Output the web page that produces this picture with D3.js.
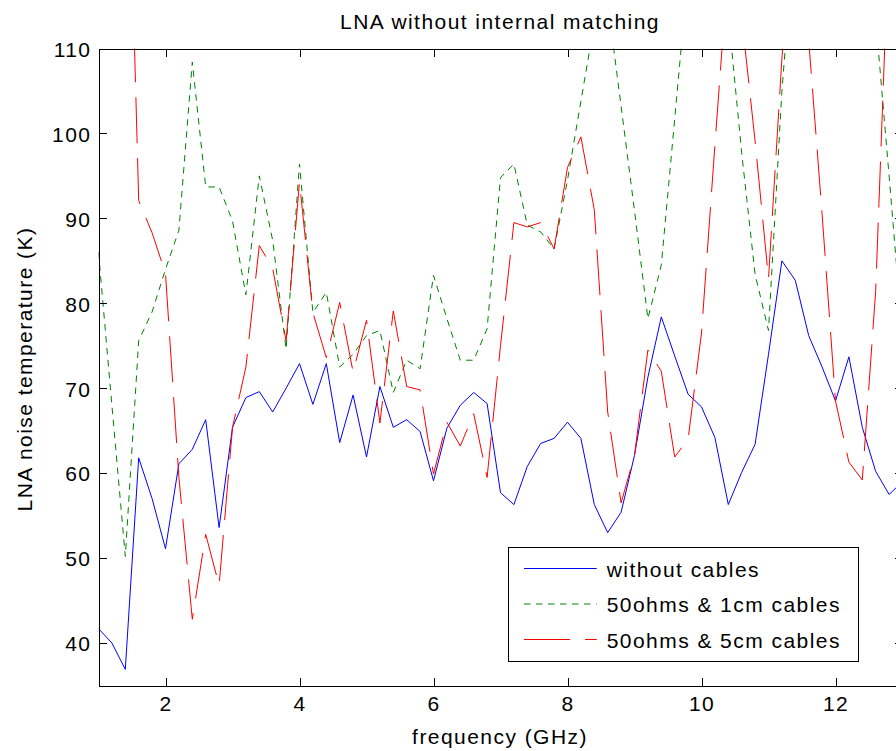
<!DOCTYPE html>
<html>
<head>
<meta charset="utf-8">
<script src="https://cdn.jsdelivr.net/npm/d3@7"></script>
<style>
	body { margin: 0; background: #fff; }
	text { font-family: "Liberation Sans", Arial, sans-serif; font-size: 21px; letter-spacing: 1.45px; fill: #000; }
</style>
</head>
<body>
<div id="chart"></div>
<script>
// frequency points (GHz), one every 0.2 GHz
var frequency = [1, 1.2, 1.4, 1.6, 1.8, 2, 2.2, 2.4, 2.6, 2.8,
	3, 3.2, 3.4, 3.6, 3.8, 4, 4.2, 4.4, 4.6, 4.8,
	5, 5.2, 5.4, 5.6, 5.8, 6, 6.2, 6.4, 6.6, 6.8,
	7, 7.2, 7.4, 7.6, 7.8, 8, 8.2, 8.4, 8.6, 8.8,
	9, 9.2, 9.4, 9.6, 9.8, 10, 10.2, 10.4, 10.6, 10.8,
	11, 11.2, 11.4, 11.6, 11.8, 12, 12.2, 12.4, 12.6, 12.8, 13];

var withoutCables = [41.7, 40.0, 36.9, 61.8, 57.0, 51.1, 61.1, 62.8, 66.3, 53.6,
	65.4, 68.9, 69.6, 67.2, 70.0, 72.9, 68.1, 72.9, 63.6, 69.2,
	61.9, 70.2, 65.4, 66.3, 64.9, 59.1, 65.3, 68.0, 69.5, 68.2,
	57.7, 56.3, 60.8, 63.5, 64.1, 66.0, 64.1, 56.3, 53.0, 55.4,
	62.1, 71.3, 78.4, 73.8, 69.3, 67.8, 64.2, 56.3, 60.1, 63.4,
	74.0, 85.0, 82.7, 76.2, 72.5, 68.5, 73.7, 65.4, 60.2, 57.5, 59.0];

var cables1cm = [86.0, 68.0, 50.2, 75.6, 79.0, 84.0, 88.6, 108.4, 93.7, 93.7,
	89.7, 81.0, 95.0, 87.4, 74.6, 96.4, 78.9, 81.3, 72.5, 74.0,
	76.2, 76.8, 69.5, 73.3, 72.3, 83.3, 78.2, 73.3, 73.3, 77.0,
	94.8, 96.4, 89.2, 88.4, 86.4, 94.5, 103.8, 113.0, 115.5, 103.2,
	90.9, 78.2, 84.5, 101.7, 119.0, 125.0, 124.0, 114.0, 97.7, 83.4,
	76.8, 105.0, 125.0, 132.0, 135.0, 132.0, 127.0, 120.0, 113.5, 95.0, 76.0];

var cables5cm = [140.0, 150.0, 150.0, 92.1, 88.3, 83.5, 59.5, 42.8, 52.8, 46.8,
	65.4, 72.5, 86.8, 84.1, 75.6, 94.3, 78.9, 73.6, 80.1, 71.9,
	78.0, 65.9, 79.1, 70.2, 69.8, 59.9, 66.0, 63.2, 67.0, 59.5,
	75.0, 89.5, 89.0, 89.5, 86.4, 96.0, 99.6, 91.0, 67.2, 56.5,
	62.1, 74.5, 72.0, 61.9, 64.0, 76.5, 98.6, 120.0, 113.7, 99.1,
	82.9, 108.8, 130.0, 111.0, 90.5, 68.5, 61.3, 59.2, 81.5, 124.0, 118.0];

var xTicks = [2, 4, 6, 8, 10, 12];
var yTicks = [40, 50, 60, 70, 80, 90, 100, 110];
var seriesNames = ["without cables", "50ohms & 1cm cables", "50ohms & 5cm cables"];

var width = 896, height = 751;
var plotLeft = 98.5, plotRight = 902.5, plotTop = 48.5, plotBottom = 685.5;

var svg = d3.select("#chart").append("svg").attr("width", width).attr("height", height);

var x = d3.scaleLinear().domain([1, 13]).range([plotLeft, plotRight]);
var y = d3.scaleLinear().domain([35, 110]).range([plotBottom, plotTop]);

svg.append("clipPath").attr("id", "plot-clip")
	.append("rect")
		.attr("x", plotLeft).attr("y", plotTop)
		.attr("width", plotRight - plotLeft).attr("height", plotBottom - plotTop);

var series = [
	{name: seriesNames[0], values: withoutCables, color: "#0000ff", dash: null},
	{name: seriesNames[1], values: cables1cm, color: "#008000", dash: "6.5,5.5"},
	{name: seriesNames[2], values: cables5cm, color: "#ff0000", dash: "46,15"}
];

var line = d3.line()
	.x(function(d, i) { return x(frequency[i]); })
	.y(function(d) { return y(d); });

var plot = svg.append("g").attr("clip-path", "url(#plot-clip)");

plot.selectAll("path.series")
	.data(series)
	.enter().append("path")
		.attr("class", "series")
		.attr("d", function(d) { return line(d.values); })
		.style("fill", "none")
		.style("stroke", function(d) { return d.color; })
		.style("stroke-width", 1)
		.style("stroke-dasharray", function(d) { return d.dash; });

// box axes, ticks pointing inward on all sides
function styleAxis(g) {
	g.attr("font-size", null).attr("font-family", null);
	g.selectAll("path, line").style("stroke", "#000").style("shape-rendering", "crispEdges");
}

svg.append("g")
	.attr("transform", "translate(0," + plotBottom + ")")
	.call(d3.axisBottom(x).tickValues(xTicks).tickSizeInner(-8).tickSizeOuter(0).tickPadding(11))
	.call(styleAxis);

svg.append("g")
	.attr("transform", "translate(0," + plotTop + ")")
	.call(d3.axisTop(x).tickValues(xTicks).tickSizeInner(-8).tickSizeOuter(0).tickFormat(""))
	.call(styleAxis);

svg.append("g")
	.attr("transform", "translate(" + plotLeft + ",0)")
	.call(d3.axisLeft(y).tickValues(yTicks).tickSizeInner(-8).tickSizeOuter(0).tickPadding(7))
	.call(styleAxis)
	.selectAll("text").attr("dy", "0.37em");

svg.append("g")
	.attr("transform", "translate(" + plotRight + ",0)")
	.call(d3.axisRight(y).tickValues(yTicks).tickSizeInner(-8).tickSizeOuter(0).tickFormat(""))
	.call(styleAxis);

// titles
svg.append("text")
	.attr("x", 500).attr("y", 29)
	.attr("text-anchor", "middle")
	.text("LNA without internal matching");

svg.append("text")
	.attr("x", 500).attr("y", 743.5)
	.attr("text-anchor", "middle")
	.text("frequency (GHz)");

svg.append("text")
	.attr("transform", "translate(32,369) rotate(-90)")
	.attr("text-anchor", "middle")
	.text("LNA noise temperature (K)");

// legend
var legend = svg.append("g").attr("class", "legend");

legend.append("rect")
	.attr("x", 508.5).attr("y", 547.5)
	.attr("width", 350).attr("height", 113.5)
	.style("fill", "#fff")
	.style("stroke", "#000")
	.style("shape-rendering", "crispEdges");

var rows = legend.selectAll("g.row")
	.data(series)
	.enter().append("g")
		.attr("class", "row")
		.attr("transform", function(d, i) { return "translate(0," + (568.5 + i * 35.5) + ")"; });

rows.append("line")
	.attr("x1", 524).attr("x2", 596.7)
	.attr("y1", 0).attr("y2", 0)
	.style("stroke", function(d) { return d.color; })
	.style("stroke-width", 1)
	.style("stroke-dasharray", function(d) { return d.dash; });

rows.append("text")
	.attr("x", 606.7).attr("y", 8)
	.text(function(d) { return d.name; });
</script>
</body>
</html>
